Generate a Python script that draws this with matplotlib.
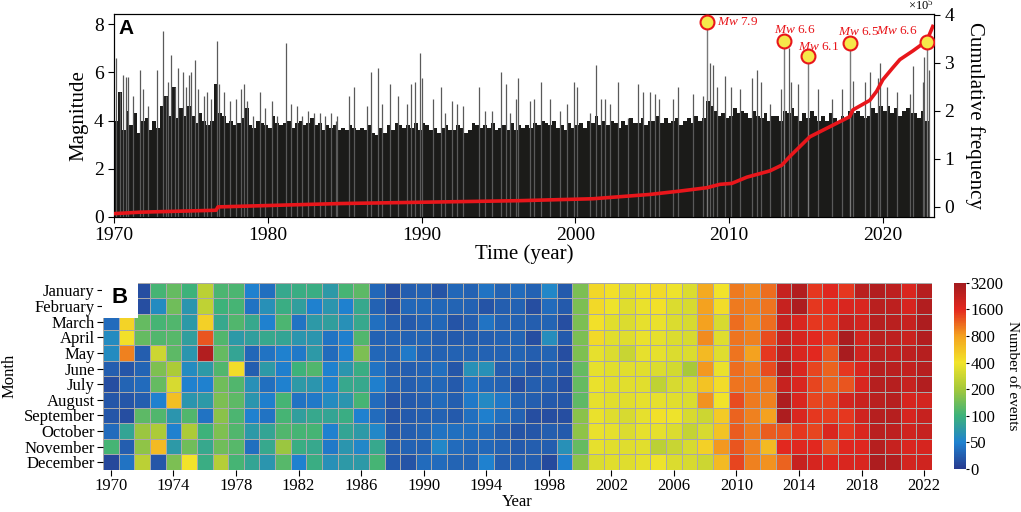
import numpy as np
import matplotlib.pyplot as plt
from matplotlib.colors import LinearSegmentedColormap, FuncNorm

plt.rcParams['font.family'] = ['Liberation Serif', 'DejaVu Serif']
plt.rcParams['mathtext.fontset'] = 'custom'
plt.rcParams['mathtext.rm'] = 'Liberation Serif'
plt.rcParams['mathtext.it'] = 'Liberation Serif:italic'

# ---------------- panel A data ----------------
years = np.arange(1970, 2023)

# solid level of the black band, per year
base_mag = [3.3, 3.3, 3.3, 3.3, 3.3, 3.3, 3.1, 3.1, 3.1, 3.1,
            3.1, 3.1, 3.1, 3.1, 3.0, 3.0, 2.9, 2.9, 2.9, 2.9,
            2.9, 2.9, 2.9, 2.9, 2.9, 2.9, 2.9, 2.9, 2.9, 2.9,
            3.1, 3.1, 3.1, 3.1, 3.1, 3.1, 3.1, 3.1, 3.3, 3.5,
            3.5, 3.4, 3.4, 3.4, 3.5, 3.5, 3.5, 3.5, 3.5, 3.6,
            3.6, 3.6, 3.5]

# ragged top of the band, four per year
fringe_mag = [
    [4.0, 5.2, 3.6, 4.4], [3.8, 4.3, 3.5, 4.0], [4.1, 3.6, 4.0, 3.7], [4.6, 5.0, 4.2, 5.4],
    [4.1, 4.5, 4.2, 4.6], [4.2, 3.9, 4.3, 4.0], [3.8, 4.0, 5.5, 4.3], [4.2, 3.9, 4.0, 3.8],
    [3.9, 4.1, 4.5, 3.8], [3.7, 4.0, 3.9, 3.8], [3.7, 4.2, 3.9, 3.8], [3.9, 4.0, 3.7, 3.9],
    [4.0, 3.8, 3.9, 4.1], [3.8, 3.9, 3.6, 3.8], [3.7, 3.8, 3.6, 3.7], [3.6, 3.8, 3.7, 3.6],
    [3.7, 3.6, 3.8, 3.5], [3.4, 3.7, 3.5, 3.8], [3.6, 3.9, 3.8, 3.7], [3.8, 3.7, 3.9, 3.6],
    [3.9, 3.8, 3.6, 3.7], [3.5, 3.7, 3.8, 3.6], [3.6, 3.8, 3.7, 3.5], [3.6, 3.9, 3.8, 3.7],
    [3.8, 3.7, 3.9, 3.6], [3.7, 3.8, 3.6, 3.9], [3.6, 3.8, 3.7, 3.8], [3.7, 3.9, 3.8, 4.0],
    [3.9, 3.8, 4.0, 3.7], [3.8, 3.6, 3.9, 3.7], [3.8, 3.9, 3.7, 4.0], [3.9, 4.2, 3.8, 4.0],
    [3.8, 4.0, 3.9, 3.7], [4.0, 3.8, 4.1, 3.9], [3.9, 4.1, 3.8, 4.0], [4.0, 4.2, 3.9, 4.1],
    [3.9, 4.0, 4.1, 3.8], [4.0, 4.1, 3.9, 4.2], [4.0, 4.1, 4.8, 4.6], [4.4, 4.2, 4.3, 4.1],
    [4.2, 4.5, 4.3, 4.4], [4.3, 4.1, 4.4, 4.2], [4.1, 4.3, 4.0, 4.2], [4.2, 4.0, 4.4, 4.3],
    [4.5, 4.2, 4.0, 4.3], [4.1, 4.4, 4.2, 4.0], [4.2, 4.0, 4.3, 4.1], [4.0, 4.2, 4.1, 4.4],
    [4.3, 4.4, 4.2, 4.1], [4.2, 4.5, 4.3, 4.6], [4.4, 4.6, 4.3, 4.5], [4.2, 4.4, 4.5, 4.3],
    [4.3, 4.1, 4.4, 4.0],
]

# individual larger events
spike_time = [1970.13, 1970.39, 1970.59, 1970.78, 1970.91, 1971.24, 1971.69, 1971.89, 1972.21,
              1972.80, 1973.19, 1973.38, 1973.51, 1973.71, 1973.97, 1974.16, 1974.49, 1974.68,
              1974.88, 1975.01, 1975.27, 1975.46, 1975.85, 1976.05, 1976.31, 1976.70, 1976.83,
              1977.15, 1977.54, 1977.93, 1978.26, 1978.45, 1978.65, 1979.04, 1979.49, 1979.82,
              1980.27, 1980.60, 1981.18, 1981.51, 1981.90, 1982.22, 1982.61, 1983.00, 1983.39,
              1983.72, 1984.11, 1984.43, 1984.50, 1985.28, 1985.60, 1986.45, 1986.71, 1987.17,
              1987.43, 1987.95, 1988.47, 1989.05, 1989.31, 1989.57, 1989.90, 1990.03, 1990.74,
              1991.26, 1991.52, 1991.98, 1992.30, 1992.69, 1993.73, 1994.12, 1994.58, 1995.16,
              1995.49, 1995.75, 1996.14, 1996.27, 1997.05, 1997.31, 1997.76, 1998.35, 1999.00,
              1999.45, 1999.91, 2000.10, 2000.95, 2001.34, 2001.66, 2001.92, 2002.25, 2002.77,
              2003.42, 2004.07, 2004.40, 2004.85, 2005.18, 2005.44, 2006.35, 2006.67, 2007.65,
              2008.30, 2008.75, 2008.95, 2009.21, 2009.73, 2010.12, 2010.70, 2011.48, 2011.81,
              2012.07, 2012.65, 2013.37, 2013.89, 2014.02, 2014.47, 2015.77, 2016.68, 2017.33,
              2018.05, 2018.83, 2019.15, 2019.67, 2019.80, 2020.26, 2020.91, 2021.76, 2021.95,
              2022.60, 2022.67, 2022.99]
spike_mag = [6.6, 5.2, 5.9, 5.8, 5.8, 5.0, 6.1, 5.3, 4.6,
             6.1, 7.7, 5.0, 5.6, 6.7, 5.4, 6.2, 6.0, 5.4,
             5.9, 6.0, 6.5, 5.3, 5.0, 5.2, 4.9, 7.3, 5.5,
             5.2, 4.8, 4.9, 5.3, 5.5, 4.8, 4.2, 5.2, 4.5,
             4.8, 4.2, 7.2, 4.7, 4.6, 4.2, 4.4, 4.3, 4.3,
             4.2, 4.3, 4.0, 4.2, 5.0, 5.4, 4.6, 6.0, 6.2,
             4.7, 5.5, 5.0, 4.7, 5.5, 5.6, 6.8, 5.75, 4.9,
             5.4, 4.3, 4.8, 4.7, 4.6, 5.4, 4.4, 4.4, 6.0,
             5.5, 4.3, 4.9, 5.75, 4.8, 4.9, 5.6, 4.9, 4.4,
             4.7, 5.6, 5.4, 4.3, 6.3, 4.9, 4.9, 4.7, 5.6,
             4.1, 5.5, 5.2, 5.2, 5.1, 4.9, 4.9, 5.4, 5.1,
             5.0, 6.4, 6.3, 5.4, 5.85, 5.4, 5.3, 5.75, 6.1,
             5.6, 4.7, 5.3, 7.0, 5.6, 5.5, 5.3, 4.9, 5.3,
             5.65, 5.6, 6.0, 5.75, 6.4, 5.4, 5.2, 5.1, 6.25,
             5.6, 6.65, 6.1]

# labelled events
event_time = [2008.56, 2013.56, 2015.12, 2017.85, 2022.86]
event_top = [8.08, 7.29, 6.67, 7.21, 7.25]
event_label = ['7.9', '6.6', '6.1', '6.5', '6.6']

# cumulative frequency (x1e5)
cum_time = [1970.0, 1971.69, 1976.63, 1976.76, 1984.69, 1996.40, 2001.14, 2004.85, 2006.8,
            2008.56, 2009.40, 2010.18, 2011.16, 2012.65, 2013.43, 2013.95, 2015.25, 2016.36,
            2017.85, 2018.05, 2019.15, 2019.6, 2020.0, 2020.65, 2021.11, 2021.95, 2022.86, 2023.25]
cum_freq = [-0.14, -0.11, -0.07, 0.0, 0.07, 0.13, 0.17, 0.26, 0.33,
            0.40, 0.47, 0.49, 0.62, 0.75, 0.87, 1.05, 1.46, 1.64,
            1.88, 2.02, 2.22, 2.41, 2.65, 2.90, 3.07, 3.25, 3.46, 3.76]

# ---------------- panel B data ----------------
months = ['January', 'February', 'March', 'April', 'May', 'June', 'July',
          'August', 'September', 'October', 'November', 'December']
monthly_counts = [
    [20, 25, 35, 60, 60, 25, 15, 20, 20, 35, 110, 10],                       # 1970
    [380, 350, 500, 420, 1000, 20, 30, 20, 15, 85, 25, 40],
    [15, 15, 140, 140, 25, 30, 35, 25, 130, 190, 180, 260],
    [110, 60, 110, 120, 300, 165, 140, 50, 120, 220, 650, 20],
    [140, 150, 120, 125, 130, 220, 330, 620, 70, 50, 75, 160],
    [100, 70, 75, 80, 70, 60, 50, 70, 120, 220, 150, 400],
    [260, 270, 520, 1300, 2800, 75, 50, 75, 40, 100, 90, 95],
    [115, 100, 90, 120, 140, 120, 150, 160, 175, 165, 150, 240],
    [115, 110, 120, 75, 85, 450, 120, 130, 115, 120, 125, 110],
    [50, 40, 90, 80, 32, 25, 65, 70, 50, 75, 38, 85],
    [38, 65, 50, 90, 40, 75, 38, 48, 40, 85, 90, 70],                        # 1980
    [90, 95, 115, 85, 50, 48, 50, 110, 110, 120, 190, 125],
    [95, 80, 40, 70, 45, 100, 75, 40, 80, 110, 95, 50],
    [95, 50, 75, 70, 75, 120, 70, 45, 90, 110, 90, 95],
    [75, 70, 80, 40, 35, 50, 50, 60, 85, 50, 45, 65],
    [110, 50, 65, 48, 50, 70, 90, 70, 95, 85, 70, 75],
    [130, 90, 90, 120, 160, 95, 90, 110, 50, 75, 55, 75],
    [32, 28, 38, 28, 32, 40, 48, 35, 35, 55, 90, 110],
    [15, 15, 25, 28, 28, 25, 28, 18, 18, 22, 25, 22],
    [25, 32, 22, 28, 45, 25, 25, 22, 22, 25, 28, 18],
    [28, 32, 28, 30, 28, 28, 30, 25, 25, 30, 28, 35],                        # 1990
    [18, 32, 32, 25, 28, 38, 32, 35, 28, 40, 55, 35],
    [32, 30, 18, 22, 28, 20, 22, 25, 22, 38, 35, 30],
    [28, 28, 25, 25, 30, 65, 40, 45, 38, 38, 32, 30],
    [40, 18, 40, 25, 28, 65, 32, 58, 48, 35, 32, 50],
    [30, 25, 28, 28, 28, 25, 28, 45, 38, 25, 28, 25],
    [35, 28, 28, 30, 30, 30, 15, 28, 28, 18, 22, 25],
    [28, 15, 25, 15, 25, 18, 25, 25, 15, 20, 25, 25],
    [55, 35, 30, 62, 30, 30, 25, 22, 15, 25, 25, 12],
    [22, 22, 15, 22, 15, 20, 15, 20, 15, 22, 65, 48],
    [160, 160, 160, 160, 165, 140, 140, 135, 175, 180, 140, 175],            # 2000
    [480, 470, 420, 470, 370, 370, 380, 370, 380, 380, 370, 340],
    [420, 390, 360, 360, 340, 360, 360, 360, 350, 370, 360, 360],
    [360, 350, 340, 350, 290, 360, 360, 360, 330, 340, 350, 350],
    [420, 380, 370, 380, 370, 360, 360, 370, 370, 370, 360, 370],
    [460, 420, 380, 370, 370, 340, 270, 370, 420, 370, 260, 390],
    [390, 340, 340, 340, 340, 320, 330, 360, 390, 340, 290, 340],
    [340, 330, 330, 330, 340, 210, 340, 340, 330, 280, 330, 330],
    [750, 800, 800, 950, 650, 850, 600, 900, 300, 330, 520, 300],
    [400, 450, 330, 350, 350, 380, 450, 400, 550, 600, 850, 650],
    [1050, 1050, 1150, 1100, 1100, 1150, 1100, 1350, 1200, 1250, 1300, 1400],  # 2010
    [950, 1000, 950, 1000, 800, 1000, 1050, 1050, 1000, 1050, 1000, 1000],
    [1150, 1100, 1150, 1350, 1500, 1350, 1050, 1000, 800, 1250, 650, 900],
    [2300, 2300, 2300, 2300, 2500, 2800, 2300, 2900, 2900, 1300, 1600, 1200],
    [2800, 2900, 1800, 1900, 1800, 1800, 1800, 1800, 1800, 1500, 1700, 2300],
    [1500, 1500, 1500, 1600, 1600, 1400, 1400, 1400, 1500, 1400, 1600, 1900],
    [1700, 1550, 1500, 1500, 1300, 1200, 1200, 1400, 1450, 1800, 1300, 1700],
    [1500, 1800, 2300, 3000, 3000, 1500, 1300, 2000, 1500, 1500, 1700, 1800],
    [2600, 1800, 2000, 2000, 2100, 1800, 1800, 2200, 2100, 1800, 1700, 1800],
    [2800, 2600, 2700, 2600, 2600, 2700, 2700, 2600, 2700, 2600, 2700, 2900],
    [2500, 2500, 2600, 2500, 2500, 2600, 2700, 2700, 2700, 2500, 2300, 2800],  # 2020
    [1800, 1900, 2300, 2200, 2500, 2400, 2300, 1900, 1900, 2100, 1800, 2000],
    [2700, 2800, 2900, 2800, 2700, 2700, 2800, 2000, 2300, 2300, 1900, 2100],
]
cbar_ticks = [0, 50, 100, 200, 400, 800, 1600, 3200]

# ---------------- figure ----------------
fig = plt.figure(figsize=(10.21, 5.12), dpi=100)

# panel A
ax = fig.add_axes([0.1117, 0.5762, 0.8031, 0.3965])
ax.bar(years + 0.5, base_mag, width=1.0, color='#1b1b19', linewidth=0)
fr = np.array(fringe_mag)
qt = (years[:, None] + (np.arange(4) + 0.5) / 4).ravel()
ax.bar(qt, fr.ravel(), width=0.25, color='#1b1b19', linewidth=0)
ax.vlines(spike_time, 0, spike_mag, color='#5a5a5a', linewidth=0.9)
ax.vlines(event_time, 0, event_top, color='#7a7a7a', linewidth=1.0)
ax.set_xlim(1970, 2023.33)
ax.set_ylim(0, 8.42)
ax.set_yticks([0, 2, 4, 6, 8])
ax.set_xticks([1970, 1980, 1990, 2000, 2010, 2020])
ax.tick_params(labelsize=14, direction='out', length=4)
ax.set_ylabel('Magnitude', fontsize=15)
ax.set_xlabel('Time (year)', fontsize=15, labelpad=0)
ax.text(0.006, 0.975, 'A', transform=ax.transAxes, fontsize=15, fontweight='bold',
        family='Liberation Sans', va='top', ha='left')

ax2 = ax.twinx()
ax2.plot(cum_time, cum_freq, color='#e8161b', linewidth=2.6, zorder=3)
ax2.set_ylim(-0.21, 4.02)
ax2.set_yticks([0, 1, 2, 3, 4])
ax2.tick_params(labelsize=14, direction='out', length=4)
ax2.set_ylabel('Cumulative frequency', fontsize=15, rotation=270, labelpad=22)
ax2.text(1.0, 1.005, r'$\times$10$^5$', transform=ax2.transAxes, ha='right', va='bottom',
         fontsize=9)

# markers + labels drawn on the magnitude scale, above the red line
ax3 = ax.twinx()
ax3.set_ylim(ax.get_ylim())
ax3.axis('off')
ax3.plot(event_time, event_top, 'o', markersize=10, markerfacecolor='#f6e84a',
         markeredgecolor='#e8161b', markeredgewidth=1.5, zorder=5)
label_offsets = [(10, 0, 'left'), (11, 11, 'center'), (11, 9, 'center'),
                 (9, 11, 'center'), (-9, 11, 'right')]
for t, m, lab, (dx, dy, ha) in zip(event_time, event_top, event_label, label_offsets):
    ax3.annotate(r'$\it{Mw}$ ' + lab, (t, m), xytext=(dx, dy), textcoords='offset pixels',
                 color='#e8161b', fontsize=9.5, ha=ha, va='center')

# panel B
colors = ['#283a8f', '#1f82d0', '#3db27a', '#a4c83a', '#f2e42a', '#f4a21f', '#e3281f', '#a21b1f']
cmap = LinearSegmentedColormap.from_list('events', colors)
idx = np.arange(len(cbar_ticks), dtype=float)
norm = FuncNorm((lambda v: np.interp(v, cbar_ticks, idx),
                 lambda t: np.interp(t, idx, cbar_ticks)), vmin=0, vmax=3200)

axb = fig.add_axes([0.1009, 0.082, 0.8119, 0.3659])
xe = np.arange(1969.5, 2023.0, 1.0)
ye = np.arange(13) - 0.5
mesh = axb.pcolormesh(xe, ye, np.array(monthly_counts).T, cmap=cmap, norm=norm,
                      edgecolors='#a9a9a9', linewidth=0.5)
axb.set_ylim(11.5, -0.5)
axb.set_xlim(1969.5, 2022.5)
axb.set_yticks(np.arange(12))
axb.set_yticklabels(months, fontsize=12)
axb.set_xticks(np.arange(1970, 2023, 4))
axb.set_xticklabels([str(y) for y in range(1970, 2023, 4)], fontsize=12)
axb.tick_params(direction='out', length=4, pad=2)
for s in axb.spines.values():
    s.set_visible(False)
axb.set_xlabel('Year', fontsize=12, labelpad=0)
axb.set_ylabel('Month', fontsize=12)
axb.text(0.0205, 0.92, 'B', transform=axb.transAxes, fontsize=16, fontweight='bold',
         family='Liberation Sans', va='center', ha='center',
         bbox=dict(facecolor='white', edgecolor='none', boxstyle='square,pad=0.45'))

cax = fig.add_axes([0.9344, 0.084, 0.0118, 0.3639])
cb = fig.colorbar(mesh, cax=cax, ticks=cbar_ticks)
cb.outline.set_visible(False)
cb.ax.tick_params(labelsize=12, direction='out', length=2, pad=1)
cb.set_label('Number of events', fontsize=11, rotation=270, labelpad=11)

fig.savefig('out.png', dpi=100)
